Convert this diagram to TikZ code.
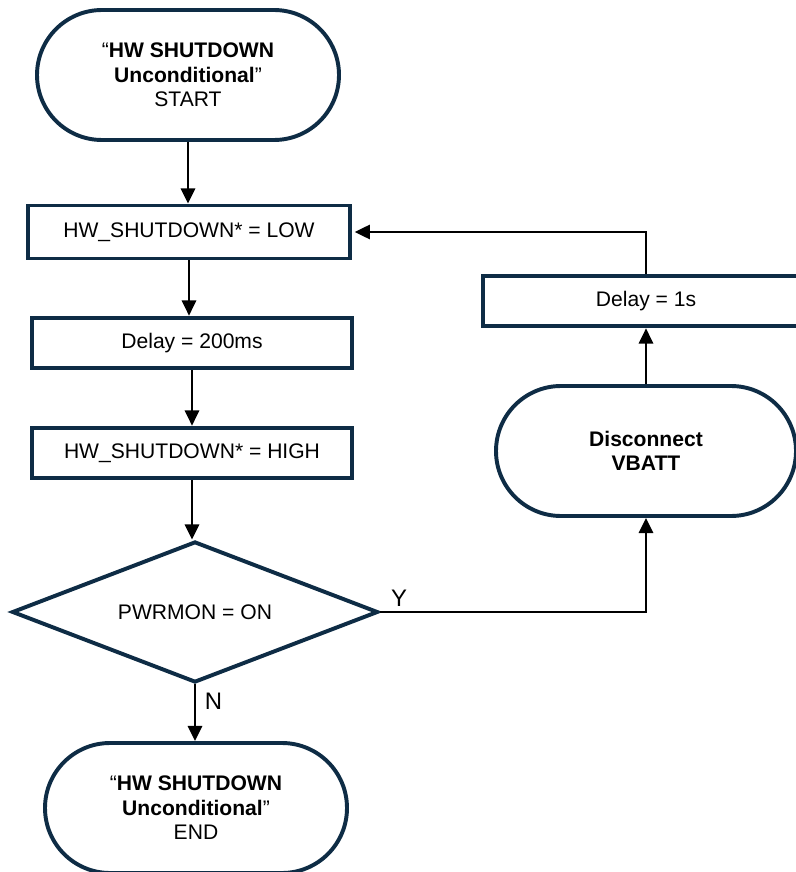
\documentclass[tikz,border=0pt]{standalone}
\usepackage{fontspec}
\setmainfont{Liberation Sans}
\usepackage{xcolor}
\usepackage{tikz}
\usetikzlibrary{arrows.meta,positioning,shapes.geometric,shapes.misc}
\definecolor{ink}{HTML}{000000}
\definecolor{navy}{HTML}{0E2C45}

\begin{document}
\begin{tikzpicture}[
  font=\fontsize{15}{17.5}\selectfont,
  term/.style={rounded rectangle, draw=navy, line width=2.8pt, align=center, minimum width=7.55cm, minimum height=3.25cm, inner sep=0pt, fill=white},
  proc/.style={rectangle, draw=navy, line width=2.8pt, align=center, minimum width=8.0cm, minimum height=1.27cm, inner sep=0pt, fill=white},
  decide/.style={diamond, aspect=2.6, draw=navy, line width=2.8pt, align=center, minimum width=9.15cm, minimum height=3.525cm, inner sep=0pt, fill=white},
  arrow/.style={-{Triangle[length=0.38cm,width=0.36cm]}, line width=1.4pt, draw=ink},
  lbl/.style={font=\fontsize{17}{20}\selectfont, inner sep=2pt}
]
\useasboundingbox (0,0) rectangle (19.875,-21.8);

\node[term] (start) at (4.70,-1.875) {“\textbf{HW SHUTDOWN}\\\textbf{Unconditional}”\\START};
\node[proc, minimum width=8.05cm, minimum height=1.325cm] (low) at (4.725,-5.80) {HW\_SHUTDOWN* = LOW};
\node[proc] (dly) at (4.80,-8.575) {Delay = 200ms};
\node[proc] (high) at (4.80,-11.325) {HW\_SHUTDOWN* = HIGH};
\node[decide] (pwr) at (4.875,-15.30) {PWRMON = ON};
\node[term] (fin) at (4.90,-20.20) {“\textbf{HW SHUTDOWN}\\\textbf{Unconditional}”\\END};

\node[term, minimum width=7.5cm] (vbatt) at (16.15,-11.275) {\textbf{Disconnect}\\\textbf{VBATT}};
\node[proc, minimum width=8.15cm] (wait) at (16.15,-7.525) {Delay = 1s};

\draw[arrow] (start.south) -- (start.south |- low.north);
\draw[arrow] (low.south) -- (low.south |- dly.north);
\draw[arrow] (dly.south) -- (dly.south |- high.north);
\draw[arrow] (high.south) -- (high.south |- pwr.north);
\draw[arrow] (pwr.south) -- (pwr.south |- fin.north) node[lbl, pos=0.3, right=0.15cm] (n) {N};

\draw[arrow] (pwr.east) -| (vbatt.south);
\node[lbl, above right=0.05cm and 0.2cm of pwr.east] (y) {Y};
\draw[arrow] (vbatt.north) -- (wait.south);
\draw[arrow, shorten >=2pt] (wait.north) |- (low.east);

\end{tikzpicture}
\end{document}
